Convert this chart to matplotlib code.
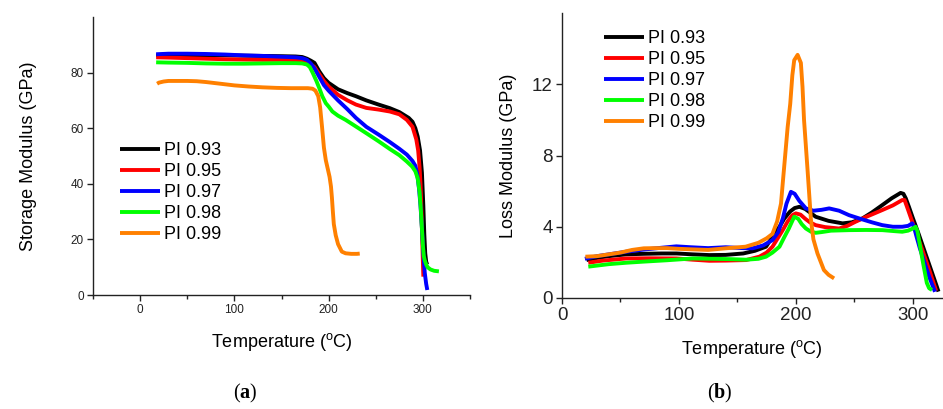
import matplotlib
matplotlib.use("Agg")
import matplotlib.pyplot as plt
from matplotlib.ticker import MultipleLocator

plt.rcParams['font.family'] = ['Liberation Sans', 'DejaVu Sans']
plt.rcParams['mathtext.fontset'] = 'custom'
plt.rcParams['mathtext.rm'] = 'Liberation Sans'
plt.rcParams['mathtext.sf'] = 'Liberation Sans'
plt.rcParams['mathtext.bf'] = 'Liberation Serif:bold'

labels = ["PI 0.93", "PI 0.95", "PI 0.97", "PI 0.98", "PI 0.99"]
colors = ["#000000", "#FF0000", "#0000FF", "#00FF00", "#FF8000"]

# ---------- (a) Storage modulus ----------
a_T93 = [17, 30, 50, 70, 90, 110, 130, 150, 165, 172, 177, 181, 185, 190, 195, 200, 210, 220, 229, 240, 253, 265, 275, 285, 289, 292, 294.5, 297, 299, 300.5, 301.5, 302.5, 303.5, 304.5]
a_E93 = [86.2, 86.3, 86.3, 86.2, 86.2, 86.1, 86.0, 85.9, 85.8, 85.6, 85.0, 84.3, 83.5, 80.5, 78.0, 76.3, 74.0, 72.6, 71.5, 70.0, 68.5, 67.2, 65.8, 63.7, 62.3, 60.0, 57.0, 52.0, 44.0, 32.0, 22.0, 15.0, 12.0, 11.0]

a_T95 = [17, 30, 50, 70, 90, 110, 130, 150, 165, 172, 177, 181, 185, 190, 195, 200, 210, 220, 229, 240, 253, 265, 275, 283, 289, 293, 295, 296.5, 297.5, 298.5, 299.3, 300, 300.5]
a_E95 = [85.5, 85.4, 85.2, 85.0, 84.8, 84.7, 84.6, 84.6, 84.5, 84.3, 83.8, 83.0, 82.0, 79.5, 77.0, 75.0, 72.0, 70.0, 68.5, 67.3, 66.7, 66.0, 65.0, 63.0, 60.5, 56.0, 52.0, 46.0, 40.0, 30.0, 20.0, 12.0, 6.6]

a_T97 = [17, 30, 50, 70, 90, 110, 130, 150, 165, 172, 177, 181, 185, 190, 195, 200, 210, 220, 229, 240, 253, 265, 275, 283, 289, 292, 294, 296, 297.5, 299, 300.5, 302, 303.5, 304.7]
a_E97 = [86.6, 86.8, 86.8, 86.7, 86.5, 86.2, 86.0, 85.7, 85.5, 85.2, 84.6, 83.3, 81.5, 78.5, 75.5, 73.5, 70.0, 66.8, 63.7, 60.5, 57.7, 55.0, 52.6, 50.5, 48.2, 46.5, 43.5, 38.0, 32.0, 24.0, 15.0, 8.0, 4.0, 1.8]

a_T98 = [17, 30, 50, 70, 90, 110, 130, 150, 165, 172, 177, 180, 183, 187, 190, 193.3, 197, 200, 204, 210, 218, 229, 240, 253, 265, 275, 283, 288.6, 292, 294.5, 296.5, 298, 299, 300, 301, 302, 303.5, 305, 308, 312, 317]
a_E98 = [83.7, 83.6, 83.5, 83.3, 83.2, 83.2, 83.3, 83.4, 83.4, 83.3, 82.9, 82.0, 80.0, 77.0, 74.5, 71.5, 69.0, 67.8, 66.0, 64.5, 63.0, 60.6, 58.2, 55.3, 52.5, 50.3, 48.0, 46.2, 44.5, 42.0, 37.0, 30.0, 24.0, 18.0, 14.0, 12.5, 11.0, 10.0, 9.2, 8.7, 8.5]

a_T99 = [18, 20, 25, 30, 40, 50, 60, 70, 80, 90, 100, 115, 130, 145, 160, 170, 178, 183, 186, 189, 191, 193, 195, 197, 199, 201, 202.5, 203.5, 204.5, 205.5, 207.5, 210, 214, 218, 224, 230, 233]
a_E99 = [76.0, 76.4, 76.8, 77.0, 77.0, 77.0, 76.9, 76.6, 76.2, 75.8, 75.4, 75.0, 74.7, 74.5, 74.4, 74.4, 74.4, 74.2, 73.5, 71.5, 67.5, 60.5, 53.0, 48.5, 45.5, 42.5, 39.0, 35.0, 30.0, 25.5, 21.5, 18.3, 15.6, 15.0, 14.8, 14.8, 14.9]

# ---------- (b) Loss modulus ----------
b_T93 = [21, 30, 40, 55, 70, 85, 98, 112, 126, 140, 155, 165, 174.5, 180, 186, 190, 195, 199, 203, 208, 217, 228, 240, 248, 257, 265, 274, 282, 289.6, 292, 294, 296.7, 300, 305, 310, 315, 320, 322]
b_E93 = [2.13, 2.25, 2.35, 2.45, 2.48, 2.5, 2.5, 2.45, 2.41, 2.42, 2.5, 2.65, 2.88, 3.44, 4.0, 4.45, 4.85, 5.05, 5.12, 5.0, 4.56, 4.33, 4.19, 4.25, 4.47, 4.8, 5.22, 5.6, 5.9, 5.85, 5.6, 5.12, 4.5, 3.6, 2.65, 1.7, 0.75, 0.36]

b_T95 = [22.5, 35, 55, 75, 97.8, 112, 126, 140, 157.5, 168.8, 175, 180, 184, 188.7, 193, 197, 200, 204, 208, 212, 217, 225, 237, 244, 251, 260, 274, 283, 291, 293, 296, 300, 305, 310, 315, 320]
b_E95 = [1.98, 2.1, 2.22, 2.23, 2.22, 2.15, 2.09, 2.1, 2.13, 2.32, 2.55, 2.88, 3.3, 3.8, 4.3, 4.65, 4.75, 4.68, 4.45, 4.25, 4.09, 3.98, 3.9, 4.05, 4.28, 4.55, 4.94, 5.2, 5.5, 5.5, 4.95, 4.2, 3.3, 2.35, 1.4, 0.4]

b_T97 = [19.6, 30, 40, 55, 70, 85, 97.8, 110, 125, 140, 155, 163, 172, 180, 185, 189, 192, 195.8, 199, 203, 208.6, 215, 222, 228.5, 237, 245.5, 255, 265, 274, 283, 291, 296, 299.5, 301, 303, 306, 310, 314, 319]
b_E97 = [2.2, 2.35, 2.45, 2.6, 2.72, 2.82, 2.9, 2.85, 2.8, 2.85, 2.8, 2.79, 2.95, 3.25, 3.7, 4.5, 5.3, 5.96, 5.85, 5.45, 5.03, 4.9, 4.95, 5.03, 4.9, 4.65, 4.45, 4.25, 4.09, 4.0, 4.0, 4.05, 4.19, 4.0, 3.5, 2.8, 2.0, 1.2, 0.35]

b_T98 = [22.5, 40, 55, 69.3, 90, 112, 130, 145, 157.5, 168, 174.5, 180, 186, 190, 194, 198.6, 202, 205, 208.6, 213, 217, 222, 230, 245.5, 260, 274, 285, 291, 296, 300, 302.4, 304, 306, 309, 312, 314, 316.5]
b_E98 = [1.76, 1.9, 1.98, 2.04, 2.12, 2.22, 2.2, 2.18, 2.15, 2.2, 2.32, 2.55, 2.88, 3.4, 3.9, 4.56, 4.45, 4.15, 3.9, 3.72, 3.66, 3.7, 3.78, 3.81, 3.82, 3.81, 3.75, 3.72, 3.78, 3.9, 4.0, 3.75, 3.0, 1.9, 0.85, 0.55, 0.45]

b_T99 = [20, 30, 40, 50, 60, 70, 80, 90, 100, 112, 125, 140, 157, 168, 175, 180, 184, 187.3, 189, 191, 193, 195.2, 197, 198.6, 201.5, 204.3, 205.7, 207, 210, 212.9, 215, 218.5, 224, 228, 232.7]
b_E99 = [2.32, 2.35, 2.45, 2.55, 2.7, 2.79, 2.8, 2.8, 2.76, 2.73, 2.7, 2.79, 2.88, 3.1, 3.35, 3.6, 4.3, 5.3, 6.6, 8.1, 9.6, 10.9, 12.5, 13.35, 13.65, 13.2, 11.85, 10.0, 7.2, 4.4, 3.3, 2.5, 1.57, 1.3, 1.1]

a_series = [(a_T93, a_E93), (a_T95, a_E95), (a_T97, a_E97), (a_T98, a_E98), (a_T99, a_E99)]
b_series = [(b_T93, b_E93), (b_T95, b_E95), (b_T97, b_E97), (b_T98, b_E98), (b_T99, b_E99)]

W, H = 943, 409
fig = plt.figure(figsize=(W / 100, H / 100), dpi=100)

axa = fig.add_axes([93 / W, 1 - 295 / H, (470 - 93) / W, (295 - 17) / H])
axb = fig.add_axes([562 / W, 1 - 298 / H, (942 - 562) / W, (298 - 13) / H])


def style(ax, tick_fs):
    for s in ['top', 'right']:
        ax.spines[s].set_visible(False)
    for s in ['left', 'bottom']:
        ax.spines[s].set_linewidth(1.0)
        ax.spines[s].set_color('#222222')
    ax.tick_params(which='major', direction='out', length=4.5, width=1.0,
                   labelsize=tick_fs, colors='#222222', pad=2)
    ax.tick_params(which='minor', direction='out', length=3, width=1.0, colors='#222222')


leg_kw = dict(frameon=False, fontsize=13, handlelength=2.2, handletextpad=0.25,
              labelspacing=0.22, borderpad=0, borderaxespad=0)

for (t, e), c, lab in zip(a_series, colors, labels):
    axa.plot(t, e, color=c, lw=2.8, label=lab, solid_joinstyle='round', solid_capstyle='butt')
axa.set_xlim(-50, 350)
axa.set_ylim(0, 100)
axa.set_xticks([0, 100, 200, 300])
axa.xaxis.set_minor_locator(MultipleLocator(50))
axa.set_yticks([0, 20, 40, 60, 80])
style(axa, 8.5)
axa.set_xlabel(r'Temperature ($^{\mathsf{o}}$C)', fontsize=13, labelpad=11)
axa.set_ylabel('Storage Modulus (GPa)', fontsize=13, labelpad=24)
axa.legend(loc='upper left', bbox_to_anchor=(120 / W, 1 - 142 / H),
           bbox_transform=fig.transFigure, **leg_kw)

for (t, e), c, lab in zip(b_series, colors, labels):
    axb.plot(t, e, color=c, lw=2.8, label=lab, solid_joinstyle='round', solid_capstyle='butt')
axb.set_xlim(0, 325)
axb.set_ylim(0, 16)
axb.set_xticks([0, 100, 200, 300])
axb.xaxis.set_minor_locator(MultipleLocator(50))
axb.set_yticks([0, 4, 8, 12])
style(axb, 13.5)
axb.set_xlabel(r'Temperature ($^{\mathsf{o}}$C)', fontsize=13, labelpad=10)
axb.set_ylabel('Loss Modulus (GPa)', fontsize=13, labelpad=11)
axb.legend(loc='upper left', bbox_to_anchor=(604 / W, 1 - 30 / H),
           bbox_transform=fig.transFigure, **leg_kw)

fig.text(245 / W, 1 - 393 / H, r'($\mathbf{a}$)', ha='center', va='center',
         fontsize=14.5, family='Liberation Serif')
fig.text(720 / W, 1 - 393 / H, r'($\mathbf{b}$)', ha='center', va='center',
         fontsize=14.5, family='Liberation Serif')

fig.savefig('out.png', dpi=100)
